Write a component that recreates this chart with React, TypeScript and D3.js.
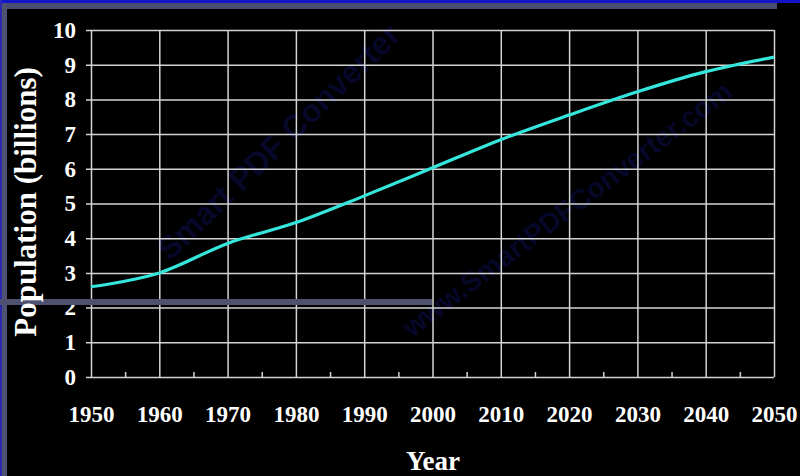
import React, { useRef, useEffect } from 'react';
import * as d3 from 'd3';

// world population, billions
const years = [1950, 1960, 1970, 1980, 1990, 2000, 2010, 2020, 2030, 2040, 2050];
const population = [2.6, 3.0, 3.85, 4.45, 5.22, 6.03, 6.84, 7.55, 8.22, 8.8, 9.22];
const yTicks = [0, 1, 2, 3, 4, 5, 6, 7, 8, 9, 10];
const minorYears = [1955, 1965, 1975, 1985, 1995, 2005, 2015, 2025, 2035, 2045];

const W = 800;
const H = 476;

const App: React.FC = () => {
  const svgRef = useRef<SVGSVGElement>(null);

  useEffect(() => {
    if (!svgRef.current) return;
    const svg = d3.select(svgRef.current);
    svg.selectAll('*').remove();

    const margin = { top: 30, left: 91, right: 26, bottom: 99 };
    const width = W - margin.left - margin.right;
    const height = H - margin.top - margin.bottom;
    const font = '"Liberation Serif", "Times New Roman", serif';

    svg.append('rect').attr('width', W).attr('height', H).attr('fill', '#000');

    // faint watermark
    svg.append('text')
      .attr('transform', 'translate(170,262) rotate(-44)')
      .style('font-family', '"Liberation Sans", Arial, sans-serif')
      .style('font-size', '32px')
      .style('font-weight', 'bold')
      .attr('fill', '#07072a')
      .text('Smart PDF Converter');
    svg.append('text')
      .attr('transform', 'translate(412,338) rotate(-37)')
      .style('font-family', '"Liberation Sans", Arial, sans-serif')
      .style('font-size', '28px')
      .style('font-weight', 'bold')
      .attr('fill', '#07072a')
      .text('www.SmartPDFConverter.com');

    // slide frame
    svg.append('rect').attr('x', 0).attr('y', 0).attr('width', W).attr('height', 3).attr('fill', '#1414c8');
    svg.append('rect').attr('x', 0).attr('y', 3).attr('width', 777).attr('height', 6).attr('fill', '#4a4d72');
    svg.append('rect').attr('x', 0).attr('y', 0).attr('width', 2).attr('height', H).attr('fill', '#2a2ab0');
    svg.append('rect').attr('x', 2).attr('y', 3).attr('width', 5).attr('height', H).attr('fill', '#4e5170');

    const g = svg.append('g').attr('transform', `translate(${margin.left},${margin.top})`);

    const x = d3.scaleLinear().domain([1950, 2050]).range([0, width]);
    const y = d3.scaleLinear().domain([0, 10]).range([height, 0]);

    // y grid + labels
    const yAxis = g.append('g')
      .attr('transform', `translate(${width},0)`)
      .call(d3.axisLeft(y).tickValues(yTicks).tickSize(width + 5).tickPadding(10).tickFormat(d3.format('d')));
    yAxis.select('.domain').remove();
    yAxis.selectAll('line').attr('stroke', '#d4d4d4').attr('stroke-width', 1.5);
    yAxis.selectAll('text')
      .attr('fill', '#fff')
      .style('font-family', font)
      .style('font-weight', 'bold')
      .style('font-size', '23px');

    // x grid + labels
    const xAxis = g.append('g')
      .attr('transform', `translate(0,${height})`)
      .call(d3.axisBottom(x).tickValues(years).tickSize(-height).tickPadding(29).tickFormat(d3.format('d')));
    xAxis.select('.domain').remove();
    xAxis.selectAll('line').attr('stroke', '#d4d4d4').attr('stroke-width', 1.5);
    xAxis.selectAll('text')
      .attr('fill', '#fff')
      .style('font-family', font)
      .style('font-weight', 'bold')
      .style('font-size', '23px');

    // minor ticks
    const minor = g.append('g')
      .attr('transform', `translate(0,${height})`)
      .call(d3.axisBottom(x).tickValues(minorYears).tickSize(-5).tickFormat(() => ''));
    minor.select('.domain').remove();
    minor.selectAll('line').attr('stroke', '#d4d4d4').attr('stroke-width', 1.5);

    // horizontal slide bar over the chart
    svg.append('rect').attr('x', 0).attr('y', 299).attr('width', 432).attr('height', 6).attr('fill', '#4e5170');

    // population line
    const line = d3.line<number>()
      .x((_, i) => x(years[i]))
      .y(d => y(d))
      .curve(d3.curveMonotoneX);
    g.append('path')
      .datum(population)
      .attr('fill', 'none')
      .attr('stroke', '#35e6dc')
      .attr('stroke-width', 3.2)
      .attr('d', line);

    // axis titles
    svg.append('text')
      .attr('x', 433)
      .attr('y', 470)
      .attr('text-anchor', 'middle')
      .attr('fill', '#fff')
      .style('font-family', font)
      .style('font-weight', 'bold')
      .style('font-size', '27px')
      .text('Year');

    svg.append('text')
      .attr('transform', 'translate(36,202) rotate(-90)')
      .attr('text-anchor', 'middle')
      .attr('fill', '#fff')
      .style('font-family', font)
      .style('font-weight', 'bold')
      .style('font-size', '31px')
      .text('Population (billions)');
  }, []);

  return (
    <div style={{ position: 'absolute', left: 0, top: 0 }}>
      <svg ref={svgRef} width={W} height={H} style={{ display: 'block' }} />
    </div>
  );
};

export default App;
